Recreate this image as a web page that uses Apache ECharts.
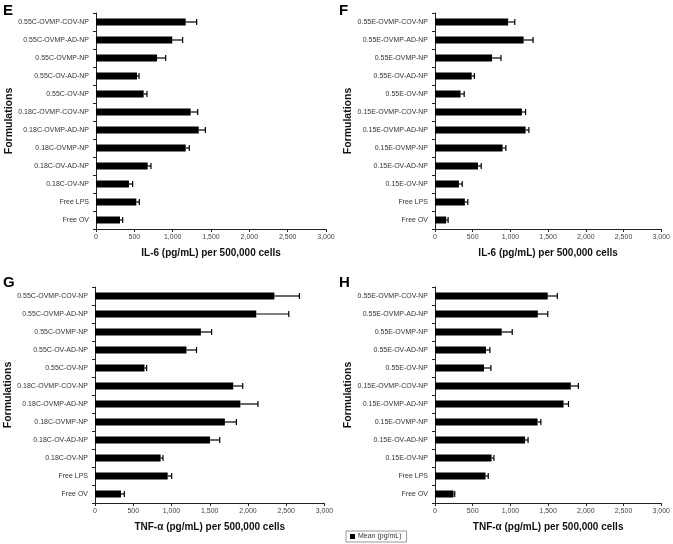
<!DOCTYPE html>
<html>
<head>
<meta charset="utf-8">
<script src="https://cdn.jsdelivr.net/npm/echarts@6/dist/echarts.min.js"></script>
<style>
html,body{margin:0;padding:0;background:#fff;}
#chart{width:673px;height:544px;}
</style>
</head>
<body>
<div id="chart"></div>
<script>
// ---- data ----
const catsE = ['0.55C-OVMP-COV-NP','0.55C-OVMP-AD-NP','0.55C-OVMP-NP','0.55C-OV-AD-NP','0.55C-OV-NP','0.18C-OVMP-COV-NP','0.18C-OVMP-AD-NP','0.18C-OVMP-NP','0.18C-OV-AD-NP','0.18C-OV-NP','Free LPS','Free OV'];
const catsF = ['0.55E-OVMP-COV-NP','0.55E-OVMP-AD-NP','0.55E-OVMP-NP','0.55E-OV-AD-NP','0.55E-OV-NP','0.15E-OVMP-COV-NP','0.15E-OVMP-AD-NP','0.15E-OVMP-NP','0.15E-OV-AD-NP','0.15E-OV-NP','Free LPS','Free OV'];
const catsG = catsE;
const catsH = catsF;

const meanE = [1170, 995, 796, 535, 622, 1235, 1340, 1170, 674, 430, 526, 313];
const errE  = [143, 135, 113, 26, 43, 91, 86, 47, 43, 48, 39, 35];
const meanF = [970, 1175, 757, 487, 339, 1153, 1201, 896, 570, 317, 396, 148];
const errF  = [88, 126, 118, 35, 48, 48, 44, 44, 43, 44, 39, 26];
const meanG = [2345, 2108, 1384, 1196, 647, 1807, 1900, 1698, 1504, 858, 950, 340];
const errG  = [327, 425, 140, 131, 28, 124, 230, 150, 126, 31, 52, 43];
const meanH = [1495, 1364, 885, 676, 650, 1801, 1705, 1360, 1194, 750, 671, 245];
const errH  = [127, 131, 139, 52, 91, 100, 65, 44, 40, 31, 35, 17];

const xTitleIL6 = 'IL-6 (pg/mL) per 500,000 cells';
const xTitleTNF = 'TNF-\u03b1 (pg/mL) per 500,000 cells';
const yTitle = 'Formulations';
const seriesName = 'Mean (pg/mL)';
const panelLetters = ['E','F','G','H'];
const xTicks = {min: 0, max: 3000, interval: 500};

// ---- chart ----
const FONT = '"Liberation Sans", Arial, sans-serif';
const grids = [
  {left: 96, top: 13, width: 230, height: 216},
  {left: 435, top: 13, width: 229.5, height: 216},
  {left: 95, top: 287, width: 229.5, height: 216},
  {left: 435, top: 287, width: 229.5, height: 216}
];
const panels = [
  {cats: catsE, mean: meanE, err: errE, xt: xTitleIL6},
  {cats: catsF, mean: meanF, err: errF, xt: xTitleIL6},
  {cats: catsG, mean: meanG, err: errG, xt: xTitleTNF},
  {cats: catsH, mean: meanH, err: errH, xt: xTitleTNF}
];

const xAxes = [], yAxes = [], series = [];
panels.forEach((p, i) => {
  xAxes.push({
    type: 'value', gridIndex: i, min: xTicks.min, max: xTicks.max, interval: xTicks.interval,
    name: p.xt, nameLocation: 'middle', nameGap: 19,
    nameTextStyle: {fontFamily: FONT, fontWeight: 'bold', fontSize: 10, color: '#111'},
    axisLine: {show: true, lineStyle: {color: '#222', width: 1}},
    axisTick: {show: true, length: 3, lineStyle: {color: '#222'}},
    axisLabel: {fontFamily: FONT, fontSize: 7, color: '#444', margin: 5,
      formatter: v => v.toLocaleString('en-US')},
    splitLine: {show: false}
  });
  yAxes.push({
    type: 'category', gridIndex: i, data: p.cats, inverse: true,
    name: yTitle, nameLocation: 'middle', nameGap: 80, nameRotate: 90,
    nameTextStyle: {fontFamily: FONT, fontWeight: 'bold', fontSize: 10.5, color: '#111'},
    axisLine: {show: true, lineStyle: {color: '#222', width: 1}},
    axisTick: {show: true, length: 3, alignWithLabel: false, lineStyle: {color: '#222'}},
    axisLabel: {fontFamily: FONT, fontSize: 7, color: '#333', margin: 7},
    splitLine: {show: false}
  });
  series.push({
    type: 'bar', name: seriesName, xAxisIndex: i, yAxisIndex: i,
    data: p.mean, barWidth: 7, itemStyle: {color: '#000'}, silent: true
  });
  series.push({
    type: 'custom', name: 'err' + i, xAxisIndex: i, yAxisIndex: i, z: 5, silent: true,
    data: p.mean.map((m, k) => [k, m, p.err[k]]),
    encode: {x: 1, y: 0},
    renderItem: function (params, api) {
      const k = api.value(0), m = api.value(1), e = api.value(2);
      const a = api.coord([m, k]);
      const b = api.coord([m + e, k]);
      const h = 3;
      return {
        type: 'group',
        children: [
          {type: 'line', shape: {x1: a[0], y1: a[1], x2: b[0], y2: b[1]}, style: {stroke: '#000', lineWidth: 1.2}},
          {type: 'line', shape: {x1: b[0], y1: b[1] - h, x2: b[0], y2: b[1] + h}, style: {stroke: '#000', lineWidth: 1.2}}
        ]
      };
    }
  });
});

const letterPos = [[3, 3], [339, 3], [3, 275], [339, 275]];
const graphic = panelLetters.map((t, i) => ({
  type: 'text', left: letterPos[i][0], top: letterPos[i][1],
  style: {text: t, fontFamily: FONT, fontWeight: 'bold', fontSize: 15, fill: '#000'}
}));

const chart = echarts.init(document.getElementById('chart'), null, {renderer: 'canvas'});
chart.setOption({
  animation: false,
  backgroundColor: '#fff',
  grid: grids,
  xAxis: xAxes,
  yAxis: yAxes,
  series: series,
  graphic: graphic,
  legend: {
    data: [seriesName], left: 346, top: 531,
    icon: 'rect', itemWidth: 5, itemHeight: 5, itemGap: 4,
    borderColor: '#999', borderWidth: 1, padding: [2, 5, 2, 4],
    textStyle: {fontFamily: FONT, fontSize: 7, color: '#333', padding: [0, 0, 0, -2]},
    selectedMode: false
  }
});
</script>
</body>
</html>
